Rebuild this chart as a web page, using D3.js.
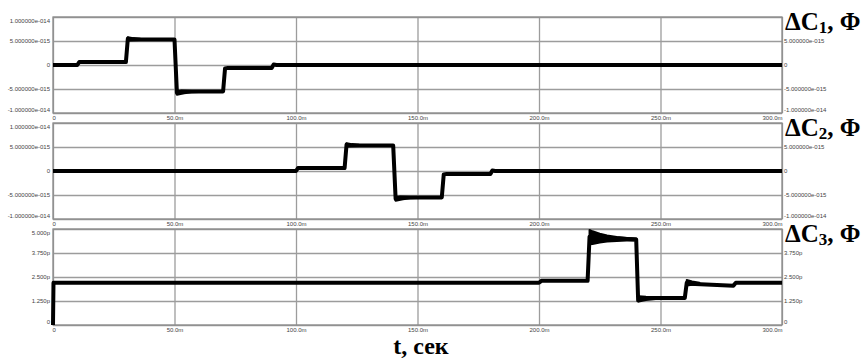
<!DOCTYPE html>
<html><head><meta charset="utf-8">
<script src="https://cdn.jsdelivr.net/npm/d3@7"></script>
<style>
html,body{margin:0;padding:0;background:#fff;}
svg{display:block;}
.tick text{font-family:"Liberation Sans",Arial,sans-serif;font-size:6px;fill:#444;}
.grid line{stroke:#9c9c9c;stroke-width:1.3;}
.title{font-family:"Liberation Serif","Times New Roman",serif;font-weight:bold;fill:#000;}
</style></head>
<body>
<svg id="c" width="861" height="358"></svg>
<script>
// time in ms
const xTicks = [0, 50, 100, 150, 200, 250, 300];
const xTickLabels = ["0", "50.0m", "100.0m", "150.0m", "200.0m", "250.0m", "300.0m"];

// ΔC1, units of 1e-15 F
const c1 = [[0,0],[10,0],[10.8,0.6],[30,0.6],[30.8,5.5],[32,5.3],[50,5.3],[51,-5.8],[53,-5.5],[70,-5.5],[70.8,-0.7],[72,-0.6],[90,-0.6],[90.8,0.1],[92,0],[300,0]];
// ΔC1 oscillation envelopes after steps: [t, low, high]
const c1Band = [[30.8,5.1,5.8],[33,5.15,5.6],[36,5.2,5.45],[40,5.25,5.35]];
const c1Band2 = [[51,-6.2,-5.3],[54,-5.9,-5.35],[57,-5.7,-5.4],[60,-5.6,-5.45]];
// ΔC2, units of 1e-15 F
const c2 = [[0,0],[100,0],[100.8,0.6],[120,0.6],[120.8,5.5],[122,5.3],[140,5.3],[141,-5.8],[143,-5.5],[160,-5.5],[160.8,-0.7],[162,-0.6],[180,-0.6],[180.8,0.1],[182,0],[300,0]];
const c2Band = [[120.8,5.1,5.8],[123,5.15,5.6],[126,5.2,5.45],[130,5.25,5.35]];
const c2Band2 = [[141,-6.2,-5.3],[144,-5.9,-5.35],[147,-5.7,-5.4],[150,-5.6,-5.45]];
// ΔC3, pF
const c3 = [[0,0],[0.2,2.2],[200,2.2],[201,2.3],[220,2.3],[220.8,4.6],[240,4.45],[240.8,1.28],[243,1.4],[260,1.4],[260.8,2.2],[262,2.15],[280,2.05],[281,2.2],[300,2.2]];
// ΔC3 oscillation envelopes: [t, low, high]
const c3Band = [[220.8,4.2,4.95],[222,4.22,4.88],[225,4.3,4.76],[228,4.35,4.66],[232,4.38,4.58],[236,4.4,4.53],[240,4.4,4.5]];
const c3Band2 = [[241,1.22,1.5],[244,1.3,1.47],[248,1.35,1.45]];
const c3Band3 = [[260.8,2.05,2.35],[263,2.1,2.27],[266,2.12,2.2]];

const c1Ticks = [10, 5, 0, -5, -10];
const c1Labels = ["1.000000e-014","5.000000e-015","0","-5.000000e-015","-1.000000e-014"];
const c3Ticks = [5, 3.75, 2.5, 1.25, 0];
const c3Labels = ["5.000p","3.750p","2.500p","1.250p","0"];

const titles = ["1","2","3"];

const svg = d3.select("#c");
const x = d3.scaleLinear().domain([0,300]).range([53,782]);

const panels = [
  {data:c1, bands:[c1Band,c1Band2], top:17, ticks:c1Ticks, labels:c1Labels, dom:[-10,10]},
  {data:c2, bands:[c2Band,c2Band2], top:123, ticks:c1Ticks, labels:c1Labels, dom:[-10,10]},
  {data:c3, bands:[c3Band,c3Band2,c3Band3], top:229, ticks:c3Ticks, labels:c3Labels, dom:[0,5]}
];
const H = 96;

panels.forEach((p,i)=>{
  const y = d3.scaleLinear().domain(p.dom).range([p.top+H, p.top]);
  const g = svg.append("g");
  // grids
  g.append("g").attr("class","grid").attr("transform",`translate(0,${p.top+H})`)
    .call(d3.axisBottom(x).tickValues(xTicks).tickSize(-H).tickFormat(""))
    .call(s=>s.select(".domain").remove());
  g.append("g").attr("class","grid").attr("transform",`translate(${x(0)},0)`)
    .call(d3.axisLeft(y).tickValues(p.ticks).tickSize(-(x(300)-x(0))).tickFormat(""))
    .call(s=>s.select(".domain").remove());
  g.append("rect").attr("x",x(0)).attr("y",p.top).attr("width",x(300)-x(0)).attr("height",H)
    .attr("fill","none").attr("stroke","#8c8c8c").attr("stroke-width",1.3);

  // left labels
  const la = g.append("g").attr("transform",`translate(${x(0)},0)`)
    .call(d3.axisLeft(y).tickValues(p.ticks).tickSize(0).tickPadding(3).tickFormat((d,j)=>p.labels[j]));
  la.select(".domain").remove();
  la.selectAll(".tick text").attr("dy",(d,j)=> j===0 ? "0.9em" : (j===p.ticks.length-1 ? "-0.3em" : "0.32em"));
  // right labels (no top)
  const rt = p.ticks.slice(1);
  const ra = g.append("g").attr("transform",`translate(${x(300)},0)`)
    .call(d3.axisRight(y).tickValues(rt).tickSize(0).tickPadding(2).tickFormat((d,j)=>p.labels[j+1]));
  ra.select(".domain").remove();
  ra.selectAll(".tick text").attr("dy",(d,j)=> j===rt.length-1 ? "-0.3em" : "0.32em");

  // bottom x labels
  const xa = g.append("g").attr("transform",`translate(0,${p.top+H})`)
    .call(d3.axisBottom(x).tickValues(xTicks).tickSize(0).tickPadding(3).tickFormat((d,j)=>xTickLabels[j]));
  xa.select(".domain").remove();
  xa.selectAll(".tick text").attr("text-anchor",(d,j)=> j===0 ? "start" : (j===xTicks.length-1 ? "end" : "middle"))
    .attr("dx",(d,j)=> j===0 ? "-1" : 0);

  // oscillation bands
  p.bands.forEach(b=>{
    g.append("path").datum(b)
      .attr("d", d3.area().x(d=>x(d[0])).y0(d=>y(d[1])).y1(d=>y(d[2])))
      .attr("fill","#000").attr("stroke","#000").attr("stroke-width",2).attr("stroke-linejoin","round");
  });
  // trace
  g.append("path").datum(p.data)
    .attr("d", d3.line().x(d=>x(d[0])).y(d=>y(d[1])))
    .attr("fill","none").attr("stroke","#000").attr("stroke-width",4).attr("stroke-linejoin","round");

  // title
  const t = svg.append("text").attr("class","title").attr("x",785).attr("y",p.top+13).attr("font-size",25);
  t.append("tspan").text("ΔC");
  t.append("tspan").text(titles[i]).attr("font-size",17).attr("dy",3);
  t.append("tspan").text(", Φ").attr("dy",-3);
});

svg.append("text").attr("class","title").attr("x",421).attr("y",354).attr("text-anchor","middle")
  .attr("font-size",24).text("t, сек");
</script>
</body></html>
